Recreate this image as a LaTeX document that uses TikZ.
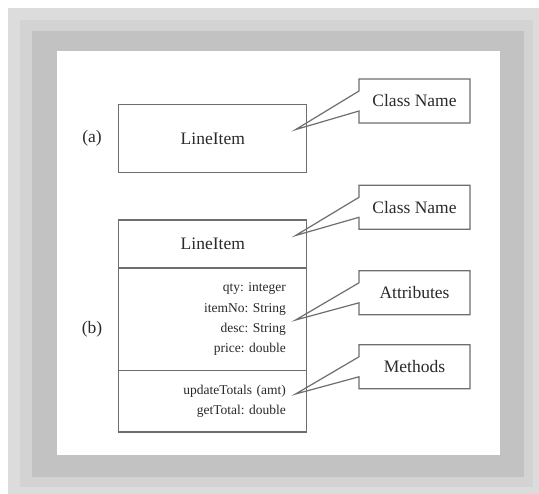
\documentclass[tikz,border=0pt]{standalone}
\usepackage{fontspec}
\setmainfont{Liberation Serif}
\usetikzlibrary{positioning,calc}
\definecolor{frameouter}{HTML}{DCDCDC}
\definecolor{framemid}{HTML}{D3D3D3}
\definecolor{frameinner}{HTML}{C2C2C2}
\definecolor{linegray}{HTML}{6E6E6E}
\definecolor{inkgray}{HTML}{2A2A2A}
\frenchspacing

\begin{document}
\begin{tikzpicture}[x=1pt, y=-1pt,
  classbox/.style={rectangle, draw=linegray, line width=1.2pt, minimum width=188pt, outer sep=0pt, inner sep=0pt, text=inkgray, font=\fontsize{17.5}{21}\selectfont},
  membox/.style={classbox, align=right, text width=146pt, font=\fontsize{13.5}{20.3}\selectfont},
  note/.style={rectangle, minimum width=111pt, minimum height=44pt, outer sep=0pt, text=inkgray, font=\fontsize{17.5}{21}\selectfont},
  noteline/.style={draw=linegray, line width=1.2pt, line join=miter},
  tag/.style={text=inkgray, font=\fontsize{17.5}{21}\selectfont}]
\useasboundingbox (0,0) rectangle (539,494);
% frame
\fill[white] (0,0) rectangle (539,494);
\fill[frameouter] (8,8) rectangle (539,494);
\fill[framemid] (20,20) rectangle (533,487);
\fill[frameinner] (32,31) rectangle (524,477);
\fill[white] (57,51) rectangle (500,455);

% (a) class name only
\node[tag] (taga) at (92,138) {(a)};
\node[classbox, minimum height=68pt] (aname) at (212.8,138.9) {LineItem};

% (b) full class
\node[tag] (tagb) at (92,329) {(b)};
\node[classbox, minimum height=48pt] (bname) at (212.8,244) {LineItem};
\node[membox, minimum height=102.6pt, below=0pt of bname] (battr) {qty: integer\\itemNo: String\\desc: String\\price: double};
\node[membox, minimum height=61.4pt, below=0pt of battr] (bmeth) {updateTotals (amt)\\getTotal: double};

% callouts
\node[note] (n1) at (414.5,101) {Class Name};
\node[note] (n2) at (414.5,207.3) {Class Name};
\node[note] (n3) at (414.5,292.8) {Attributes};
\node[note] (n4) at (414.5,366.8) {Methods};
\coordinate (t1) at (295.6,129.6);
\coordinate (t2) at (295.6,235.5);
\coordinate (t3) at (295.6,320);
\coordinate (t4) at (295.6,394);
\foreach \n/\t in {n1/t1, n2/t2, n3/t3, n4/t4}
  \draw[noteline] ($(\n.west)+(0,-10)$) -- (\n.north west) -- (\n.north east) -- (\n.south east) -- (\n.south west) -- ($(\n.west)+(0,10)$) -- (\t) -- cycle;
\end{tikzpicture}
\end{document}
